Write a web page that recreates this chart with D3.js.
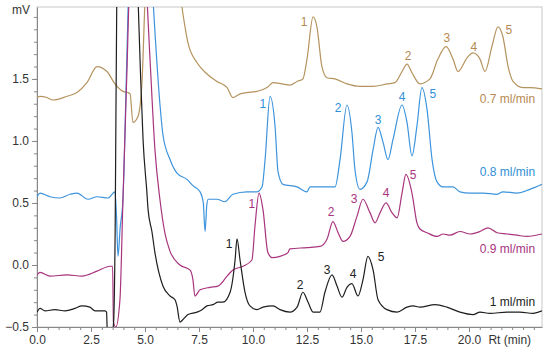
<!DOCTYPE html>
<html>
<head>
<meta charset="utf-8">
<script src="https://cdn.jsdelivr.net/npm/d3@7"></script>
<style>
  body { margin: 0; background: #fff; }
  text { font-family: "Liberation Sans", Arial, sans-serif; }
</style>
</head>
<body>
<div id="chart"></div>
<script>
// retention time (min), signal (mV)
var trace07 = [[0,1.35],[0.14,1.36],[0.46,1.35],[0.74,1.33],[1.39,1.36],[1.85,1.39],[2.31,1.47],[2.78,1.60],[3.24,1.56],[3.61,1.46],[3.98,1.40],[4.21,1.39],[4.31,1.38],[4.44,1.15],[4.68,1.20],[4.86,1.47],[5.00,2.14],[5.6,4.0],[6.71,2.08],[6.99,1.79],[7.41,1.63],[7.87,1.54],[8.33,1.48],[8.80,1.43],[9.07,1.35],[9.40,1.38],[9.72,1.39],[10.19,1.40],[10.65,1.43],[10.93,1.47],[11.34,1.46],[11.71,1.45],[12.04,1.48],[12.31,1.50],[12.50,1.66],[12.78,2.00],[12.96,1.92],[13.19,1.60],[13.43,1.51],[13.80,1.50],[14.35,1.46],[14.95,1.44],[15.56,1.44],[16.20,1.46],[16.57,1.47],[16.90,1.56],[17.13,1.62],[17.36,1.55],[17.73,1.46],[18.19,1.50],[18.56,1.66],[18.94,1.76],[19.26,1.66],[19.49,1.56],[19.91,1.67],[20.19,1.71],[20.51,1.66],[20.74,1.56],[21.06,1.76],[21.34,1.92],[21.57,1.84],[21.81,1.60],[22.04,1.48],[22.50,1.43],[22.82,1.43],[23.38,1.42]];

var trace08 = [[0,0.55],[0.14,0.58],[0.60,0.55],[1.06,0.54],[1.53,0.57],[1.85,0.58],[2.36,0.53],[2.78,0.55],[3.29,0.54],[3.61,0.59],[3.68,0.40],[3.75,0.07],[3.85,0.30],[3.98,0.53],[4.12,1.4],[4.25,2.3],[4.7,4.5],[5.37,2.14],[5.69,1.3],[5.83,1.05],[6.16,0.85],[6.48,0.74],[6.94,0.69],[7.22,0.64],[7.55,0.59],[7.70,0.50],[7.78,0.27],[7.86,0.48],[7.92,0.53],[8.33,0.53],[8.70,0.51],[9.07,0.57],[9.72,0.59],[10.19,0.59],[10.42,0.63],[10.56,0.85],[10.79,1.36],[11.02,1.12],[11.16,0.75],[11.39,0.65],[12.04,0.63],[12.50,0.59],[12.64,0.63],[12.96,0.63],[13.43,0.63],[13.80,0.63],[14.03,0.85],[14.35,1.29],[14.58,1.07],[14.72,0.77],[14.95,0.61],[15.28,0.67],[15.56,0.93],[15.79,1.11],[16.02,0.99],[16.25,0.85],[16.48,1.01],[16.90,1.29],[17.13,1.15],[17.36,0.88],[17.59,1.12],[17.82,1.43],[18.06,1.25],[18.29,0.85],[18.52,0.67],[18.80,0.63],[19.26,0.63],[19.58,0.59],[20.05,0.58],[20.65,0.58],[21.30,0.57],[21.57,0.59],[22.22,0.58],[22.82,0.61],[23.38,0.65]];

var trace09 = [[0,-0.08],[0.14,-0.06],[0.60,-0.09],[1.39,-0.08],[2.08,-0.09],[2.78,-0.05],[3.38,-0.01],[3.50,-0.01],[3.54,-0.46],[3.65,-0.50],[3.84,-0.28],[3.98,0.53],[4.17,1.60],[4.28,2.3],[4.6,4.5],[5.05,2.3],[5.25,1.6],[5.46,0.93],[5.69,0.53],[5.93,0.25],[6.16,0.11],[6.62,0.00],[7.08,-0.04],[7.22,-0.12],[7.31,-0.25],[7.55,-0.20],[8.01,-0.18],[8.38,-0.17],[8.80,-0.09],[9.07,-0.04],[9.54,-0.01],[9.95,0.04],[10.09,0.31],[10.28,0.58],[10.46,0.45],[10.69,0.10],[10.88,0.06],[11.25,0.07],[11.62,0.10],[11.71,0.13],[12.50,0.14],[13.10,0.15],[13.43,0.21],[13.70,0.35],[13.94,0.26],[14.17,0.19],[14.49,0.23],[14.81,0.39],[15.09,0.53],[15.42,0.42],[15.65,0.34],[15.88,0.42],[16.16,0.50],[16.44,0.42],[16.67,0.38],[16.90,0.58],[17.08,0.73],[17.36,0.58],[17.59,0.34],[17.73,0.29],[18.06,0.26],[18.52,0.23],[18.80,0.25],[19.12,0.24],[19.58,0.27],[20.05,0.25],[20.51,0.27],[20.88,0.30],[21.30,0.26],[21.76,0.25],[22.22,0.24],[22.69,0.23],[23.38,0.25]];

var trace10 = [[0,-0.38],[0.14,-0.35],[0.37,-0.37],[0.83,-0.36],[1.30,-0.37],[1.76,-0.35],[2.08,-0.33],[2.45,-0.34],[2.69,-0.37],[3.15,-0.37],[3.22,-0.38],[3.26,-0.56],[3.45,-0.58],[3.55,-0.45],[3.62,0.3],[3.70,2.3],[4.2,4.5],[4.68,2.14],[4.80,1.5],[4.91,1.01],[5.09,0.58],[5.14,0.45],[5.32,0.27],[5.46,0.10],[5.83,-0.17],[6.16,-0.25],[6.39,-0.28],[6.48,-0.33],[6.62,-0.46],[6.76,-0.44],[6.99,-0.40],[7.41,-0.38],[7.64,-0.36],[7.87,-0.33],[8.15,-0.32],[8.38,-0.30],[8.61,-0.30],[8.94,-0.22],[9.17,0.04],[9.26,0.21],[9.40,0.04],[9.63,-0.22],[9.86,-0.33],[10.19,-0.36],[10.46,-0.34],[10.93,-0.33],[11.25,-0.36],[11.71,-0.38],[12.04,-0.34],[12.31,-0.22],[12.55,-0.30],[12.78,-0.38],[13.10,-0.38],[13.33,-0.22],[13.66,-0.08],[13.89,-0.17],[14.12,-0.26],[14.35,-0.18],[14.58,-0.15],[14.86,-0.25],[15.09,-0.12],[15.32,0.07],[15.56,-0.04],[15.79,-0.28],[16.20,-0.36],[16.67,-0.38],[17.13,-0.34],[17.41,-0.33],[17.73,-0.34],[18.43,-0.32],[18.98,-0.34],[19.58,-0.38],[20.19,-0.40],[20.51,-0.38],[20.97,-0.39],[21.76,-0.38],[22.36,-0.38],[22.96,-0.39],[23.38,-0.37]];

// where the peak numbers 1..5 sit, in (min, mV)
var peaks07 = [[12.36,1.96],[17.18,1.69],[18.98,1.83],[20.23,1.76],[21.85,1.90]];
var peaks08 = [[10.46,1.30],[13.94,1.27],[15.79,1.17],[16.90,1.36],[18.33,1.38]];
var peaks09 = [[9.95,0.49],[13.61,0.43],[14.68,0.53],[16.16,0.58],[17.41,0.73]];
var peaks10 = [[8.89,0.17],[12.18,-0.16],[13.43,-0.04],[14.63,-0.07],[15.93,0.07]];

var flows = ["0.7 ml/min", "0.8 ml/min", "0.9 ml/min", "1 ml/min"];
var flowLevels = [1.34, 0.75, 0.13, -0.30];
var colors = ["#b5935e", "#3d94dc", "#a8347e", "#1e1e1e"];
var labelColors = ["#b58a52", "#2f8fd8", "#a8347e", "#222222"];

var xTicks = [0, 2.5, 5, 7.5, 10, 12.5, 15, 17.5, 20];
var yTicks = [-0.5, 0, 0.5, 1, 1.5];

// set the dimensions and margins of the graph
var margin = {top: 7, right: 8, bottom: 30, left: 37},
    width = 550 - margin.left - margin.right,
    height = 357 - margin.top - margin.bottom;

var svg = d3.select("#chart")
  .append("svg")
    .attr("width", width + margin.left + margin.right)
    .attr("height", height + margin.top + margin.bottom)
  .append("g")
    .attr("transform", "translate(" + margin.left + "," + margin.top + ")");

var x = d3.scaleLinear().domain([0, 23.38]).range([0, width]);
var y = d3.scaleLinear().domain([-0.5, 2.08]).range([height, 0]);

// frame
svg.append("rect")
  .attr("width", width)
  .attr("height", height)
  .attr("fill", "none")
  .attr("stroke", "#c8c8c8");

// minor ticks
svg.append("g")
  .attr("transform", "translate(0," + height + ")")
  .call(d3.axisBottom(x).tickValues(d3.range(0, 23.4, 0.5)).tickSize(3).tickFormat(""))
  .call(function(g) { g.select(".domain").remove(); })
  .selectAll("line").attr("stroke", "#888");
svg.append("g")
  .call(d3.axisLeft(y).tickValues(d3.range(-0.5, 2.05, 0.1)).tickSize(3).tickFormat(""))
  .call(function(g) { g.select(".domain").remove(); })
  .selectAll("line").attr("stroke", "#888");

// X axis
var xAxis = svg.append("g")
  .attr("transform", "translate(0," + height + ")")
  .call(d3.axisBottom(x).tickValues(xTicks).tickSize(5).tickSizeOuter(0).tickFormat(d3.format(".1f")));
xAxis.select(".domain").attr("stroke", "#888");
xAxis.selectAll("line").attr("stroke", "#888");
xAxis.selectAll("text").attr("font-size", 12).attr("fill", "#333").attr("font-family", "Liberation Sans, Arial, sans-serif");

// Y axis
var yAxis = svg.append("g")
  .call(d3.axisLeft(y).tickValues(yTicks).tickSize(5).tickSizeOuter(0).tickFormat(d3.format(".1f")));
yAxis.select(".domain").attr("stroke", "#888");
yAxis.selectAll("line").attr("stroke", "#888");
yAxis.selectAll("text").attr("font-size", 12).attr("fill", "#333").attr("font-family", "Liberation Sans, Arial, sans-serif");

svg.append("text")
  .attr("x", -7)
  .attr("y", 3)
  .attr("dy", "0.35em")
  .attr("text-anchor", "end")
  .attr("font-size", 12)
  .attr("fill", "#333")
  .text("mV");

svg.append("text")
  .attr("x", x(20.9))
  .attr("y", height + 8)
  .attr("dy", "0.71em")
  .attr("text-anchor", "start")
  .attr("font-size", 12)
  .attr("fill", "#333")
  .text("Rt (min)");

// clip the traces to the plot area
svg.append("clipPath")
  .attr("id", "clip")
  .append("rect")
    .attr("width", width)
    .attr("height", height);

var line = d3.line()
  .x(function(d) { return x(d[0]); })
  .y(function(d) { return y(d[1]); })
  .curve(d3.curveMonotoneX);

var traces = [trace07, trace08, trace09, trace10];
var peaks = [peaks07, peaks08, peaks09, peaks10];

svg.append("g")
  .attr("clip-path", "url(#clip)")
  .selectAll("path")
  .data(traces)
  .enter().append("path")
    .attr("d", line)
    .attr("fill", "none")
    .attr("stroke", function(d, i) { return colors[i]; })
    .attr("stroke-width", 1.2)
    .attr("stroke-linejoin", "round");

// peak numbers
peaks.forEach(function(p, i) {
  svg.append("g").selectAll("text")
    .data(p)
    .enter().append("text")
      .attr("x", function(d) { return x(d[0]); })
      .attr("y", function(d) { return y(d[1]); })
      .attr("dy", "0.35em")
      .attr("text-anchor", "middle")
      .attr("font-size", 12)
      .attr("fill", labelColors[i])
      .text(function(d, j) { return j + 1; });
});

// flow rate labels
svg.append("g").selectAll("text")
  .data(flows)
  .enter().append("text")
    .attr("x", x(23.06))
    .attr("y", function(d, i) { return y(flowLevels[i]); })
    .attr("dy", "0.35em")
    .attr("text-anchor", "end")
    .attr("font-size", 12)
    .attr("fill", function(d, i) { return labelColors[i]; })
    .text(function(d) { return d; });
</script>
</body>
</html>
